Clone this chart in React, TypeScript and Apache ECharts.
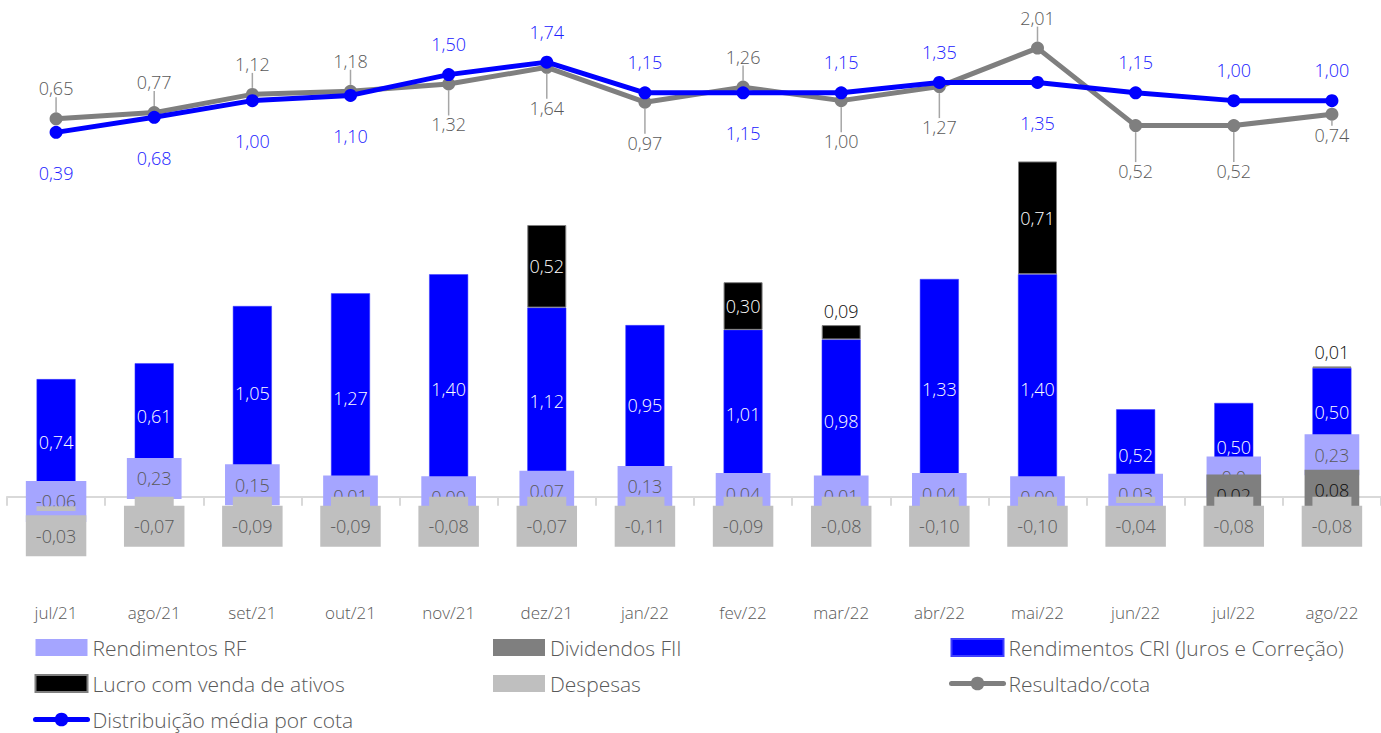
import React, { useEffect, useRef } from "react";
import * as echarts from "echarts";

const categories = ["jul/21", "ago/21", "set/21", "out/21", "nov/21", "dez/21", "jan/22", "fev/22", "mar/22", "abr/22", "mai/22", "jun/22", "jul/22", "ago/22"];
const rendimentosRF = [-0.06, 0.23, 0.15, 0.01, 0.0, 0.07, 0.13, 0.04, 0.01, 0.04, 0.0, 0.03, 0.07, 0.23];
const dividendosFII = [null, null, null, null, null, null, null, null, null, null, null, null, 0.02, 0.08];
const rendimentosCRI = [0.74, 0.61, 1.05, 1.27, 1.4, 1.12, 0.95, 1.01, 0.98, 1.33, 1.4, 0.52, 0.5, 0.5];
const lucroVenda = [null, null, null, null, null, 0.52, null, 0.3, 0.09, null, 0.71, null, null, 0.01];
const despesas = [-0.03, -0.07, -0.09, -0.09, -0.08, -0.07, -0.11, -0.09, -0.08, -0.1, -0.1, -0.04, -0.08, -0.08];
const resultadoCota = [0.65, 0.77, 1.12, 1.18, 1.32, 1.64, 0.97, 1.26, 1.0, 1.27, 2.01, 0.52, 0.52, 0.74];
const distribuicaoMedia = [0.39, 0.68, 1.0, 1.1, 1.5, 1.74, 1.15, 1.15, 1.15, 1.35, 1.35, 1.15, 1.0, 1.0];
const resultadoLabelSide = ["top", "top", "top", "top", "bottom", "bottom", "bottom", "top", "bottom", "bottom", "top", "bottomGuide", "bottomGuide", "bottomRight"];
const distribuicaoLabelSide = ["bottom", "bottom", "bottom", "bottom", "top", "top", "top", "bottom", "top", "top", "bottom", "top", "top", "top"];
// label text shown (truncated) in the source for RF of jul/22
const rfTruncatedLabel = { index: 12, text: "0,0" };

const FONT = "'Open Sans', 'Noto Sans', sans-serif";
const WEIGHT = 300;
const fmt = (v: number) => v.toFixed(2).replace(".", ",");

export default function App() {
  const ref = useRef<HTMLDivElement>(null);
  useEffect(() => {
    if (!ref.current) return;
    const chart = echarts.init(ref.current, null, { renderer: "svg" });

    const boxLabel = (bg: string, color: string) => ({
      show: true,
      position: "inside",
      backgroundColor: bg,
      color,
      fontFamily: FONT,
      fontWeight: WEIGHT,
      fontSize: 18,
      lineHeight: 19,
      padding: [11, 10],
      formatter: (p: any) => fmt(p.value),
    });

    const rfData = rendimentosRF.map((v, i) => {
      const item: any = { value: v };
      const lbl: any = {};
      if (dividendosFII[i] != null) lbl.offset = [0, -11];
      if (i === rfTruncatedLabel.index) {
        lbl.formatter = rfTruncatedLabel.text;
        lbl.padding = [11, 15];
      }
      if (Object.keys(lbl).length) item.label = lbl;
      return item;
    });

    const lucroData = lucroVenda.map((v) => {
      if (v == null) return null;
      if (v >= 0.2) return { value: v };
      return { value: v, label: { position: "top", distance: 5, color: "#0d0d0d" } };
    });

    const lineData = (vals: number[], sides: string[]) =>
      vals.map((v, i) => {
        const side = sides[i];
        if (side === "bottomRight") {
          return { value: v, label: { position: "bottom", distance: 5, offset: [13, 0] } };
        }
        if (side === "bottomGuide") {
          return { value: v, label: { position: "bottom", distance: 12 } };
        }
        return { value: v, label: { position: side, distance: side === "top" ? 15 : 25 } };
      });

    const legendBase: any = {
      orient: "vertical",
      top: 637,
      height: 100,
      itemWidth: 52,
      itemHeight: 17,
      itemGap: 15,
      padding: 0,
      selectedMode: false,
      lineStyle: { width: 5, cap: "round" },
      textStyle: { fontFamily: FONT, fontWeight: WEIGHT, fontSize: 21, color: "#595959", lineHeight: 20 },
    };

    const numLabel = { fontFamily: FONT, fontWeight: WEIGHT, fontSize: 18, formatter: (p: any) => fmt(p.value) };

    const option: any = {
      animation: false,
      backgroundColor: "#ffffff",
      textStyle: { fontFamily: FONT },
      grid: { left: 7, right: 0, top: 20, bottom: 133, containLabel: false },
      legend: [
        { ...legendBase, left: 33, data: [{ name: "Rendimentos RF", icon: "rect" }, { name: "Lucro com venda de ativos", icon: "rect" }, { name: "Distribuição média por cota" }] },
        { ...legendBase, left: 493, data: [{ name: "Dividendos FII", icon: "rect" }, { name: "Despesas", icon: "rect" }] },
        { ...legendBase, left: 949, data: [{ name: "Rendimentos CRI (Juros e Correção)", icon: "rect" }, { name: "Resultado/cota" }] },
      ],
      xAxis: {
        type: "category",
        data: categories,
        boundaryGap: true,
        axisLine: { show: true, onZero: true, onZeroAxisIndex: 0, lineStyle: { color: "#D9D9D9", width: 2 } },
        axisTick: { show: true, length: 9, lineStyle: { color: "#D9D9D9", width: 2 } },
        axisLabel: { margin: 4, color: "#595959", fontSize: 17, fontWeight: WEIGHT, fontFamily: FONT },
        splitLine: { show: false },
      },
      yAxis: [
        { type: "value", min: -0.65, max: 3.0, show: false, splitLine: { show: false } },
        { type: "value", min: -8.6, max: 2.55, show: false, splitLine: { show: false } },
      ],
      series: [
        {
          name: "Dividendos FII",
          type: "bar",
          stack: "total",
          barWidth: 39,
          z: 4,
          itemStyle: { color: "#7F7F7F" },
          label: boxLabel("#7F7F7F", "#0d0d0d"),
          data: dividendosFII,
        },
        {
          name: "Rendimentos RF",
          type: "bar",
          stack: "total",
          barWidth: 39,
          z: 3,
          itemStyle: { color: "#A5A5FF" },
          label: boxLabel("#A5A5FF", "#595959"),
          data: rfData,
        },
        {
          name: "Rendimentos CRI (Juros e Correção)",
          type: "bar",
          stack: "total",
          barWidth: 39,
          z: 2,
          itemStyle: { color: "#0000FF", borderColor: "#3f3fff", borderWidth: 0.5 },
          label: { show: true, position: "inside", offset: [0, 4], color: "#ffffff", ...numLabel },
          data: rendimentosCRI,
        },
        {
          name: "Lucro com venda de ativos",
          type: "bar",
          stack: "total",
          barWidth: 39,
          z: 2,
          itemStyle: { color: "#000000", borderColor: "#7f7f7f", borderWidth: 1 },
          label: { show: true, position: "inside", color: "#ffffff", ...numLabel },
          data: lucroData,
        },
        {
          name: "Despesas",
          type: "bar",
          stack: "total",
          barWidth: 39,
          z: 5,
          itemStyle: { color: "#BFBFBF" },
          label: { ...boxLabel("#BFBFBF", "#595959"), position: "insideTop", distance: 9 },
          data: despesas,
        },
        {
          name: "Resultado/cota",
          type: "line",
          yAxisIndex: 1,
          z: 10,
          symbol: "circle",
          symbolSize: 13,
          lineStyle: { color: "#7F7F7F", width: 5 },
          itemStyle: { color: "#7F7F7F" },
          label: { show: true, color: "#595959", ...numLabel },
          labelLine: { show: true, lineStyle: { color: "#A6A6A6", width: 1.5 } },
          labelLayout: (p: any) => (resultadoLabelSide[p.dataIndex] === "bottomGuide" ? { dy: 18 } : {}),
          data: lineData(resultadoCota, resultadoLabelSide),
        },
        {
          name: "Distribuição média por cota",
          type: "line",
          yAxisIndex: 1,
          z: 11,
          symbol: "circle",
          symbolSize: 13,
          lineStyle: { color: "#0000FF", width: 5 },
          itemStyle: { color: "#0000FF" },
          label: { show: true, color: "#2020ff", ...numLabel },
          data: lineData(distribuicaoMedia, distribuicaoLabelSide),
        },
      ],
    };

    chart.setOption(option);
    return () => chart.dispose();
  }, []);

  return <div ref={ref} style={{ position: "absolute", left: 0, top: 0, width: 1381, height: 733 }} />;
}
